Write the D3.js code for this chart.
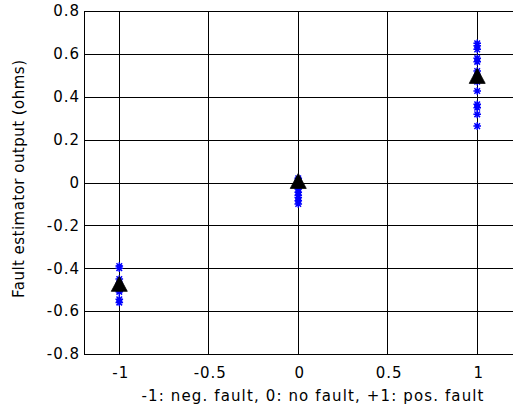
<!DOCTYPE html>
<html>
<head>
<meta charset="utf-8">
<script src="https://cdn.jsdelivr.net/npm/d3@7"></script>
<style>
  html, body { margin: 0; padding: 0; background: #fff; }
  svg { display: block; }
  text { font-family: "DejaVu Sans", Tahoma, sans-serif; font-size: 15px; fill: #000; }
  .tick text { letter-spacing: 1px; }
</style>
</head>
<body>
<svg id="chart" width="513" height="409"></svg>
<script>
// Fault class on the x axis: -1 negative fault, 0 no fault, +1 positive fault
const classes = [-1, 0, 1];

// Individual estimator outputs (ohms) for each class
const outputsNeg = [-0.39, -0.40, -0.45, -0.47, -0.48, -0.49, -0.50, -0.51, -0.545, -0.56];
const outputsNone = [0.02, 0.01, 0.0, -0.01, -0.03, -0.045, -0.06, -0.07, -0.085, -0.10];
const outputsPos = [0.649, 0.638, 0.621, 0.58, 0.563, 0.52, 0.50, 0.47, 0.427, 0.365, 0.349, 0.318, 0.263];

// Mean output per class
const means = [-0.475, 0.005, 0.495];

// Axis ticks
const xTicks = [-1, -0.5, 0, 0.5, 1];
const yTicks = [-0.8, -0.6, -0.4, -0.2, 0, 0.2, 0.4, 0.6, 0.8];

const xLabel = "-1: neg. fault, 0: no fault, +1: pos. fault";
const yLabel = "Fault estimator output (ohms)";

const svg = d3.select("#chart");
const plotLeft = 84, plotRight = 513.5, plotTop = 11, plotBottom = 354;

const x = d3.scaleLinear().domain([-1.2, 1.2]).range([plotLeft, plotRight]);
const y = d3.scaleLinear().domain([-0.8, 0.8]).range([plotBottom, plotTop]);

// Grid lines
const grid = svg.append("g").attr("stroke", "#000").attr("stroke-width", 1).attr("shape-rendering", "crispEdges");
grid.selectAll("line.v").data(xTicks).join("line").attr("class", "v")
  .attr("x1", d => Math.round(x(d)) - 0.5).attr("x2", d => Math.round(x(d)) - 0.5)
  .attr("y1", plotTop).attr("y2", plotBottom);
grid.selectAll("line.h").data(yTicks).join("line").attr("class", "h")
  .attr("y1", d => Math.round(y(d)) + 0.5).attr("y2", d => Math.round(y(d)) + 0.5)
  .attr("x1", plotLeft).attr("x2", plotRight);

// Axes
const xAxis = d3.axisBottom(x).tickValues(xTicks).tickSize(0).tickPadding(13)
  .tickFormat(d => String(d));
const yAxis = d3.axisLeft(y).tickValues(yTicks).tickSize(0).tickPadding(4)
  .tickFormat(d => String(Math.round(d * 10) / 10));

const gx = svg.append("g").attr("transform", `translate(0,${plotBottom})`).call(xAxis);
const gy = svg.append("g").attr("transform", `translate(${plotLeft},0)`).call(yAxis);
[gx, gy].forEach(g => {
  g.select(".domain").remove();
  g.attr("font-family", null).attr("font-size", null);
});
// keep centred x tick labels centred despite trailing letter spacing
gx.selectAll("text").attr("dx", "0.5px");

// Box around the plot area
svg.append("rect")
  .attr("x", plotLeft + 0.5).attr("y", plotTop + 0.5)
  .attr("width", plotRight - plotLeft).attr("height", plotBottom - plotTop)
  .attr("fill", "none").attr("stroke", "#000").attr("stroke-width", 1)
  .attr("shape-rendering", "crispEdges");

// Star markers for individual outputs
const groups = [outputsNeg, outputsNone, outputsPos];
const points = [];
groups.forEach((vals, i) => vals.forEach(v => points.push({ c: classes[i], v })));

const r = 3.8, rd = 2.8;
const starPath = `M${-r},0L${r},0M0,${-r}L0,${r}M${-rd},${-rd}L${rd},${rd}M${-rd},${rd}L${rd},${-rd}`;
svg.append("g").selectAll("path").data(points).join("path")
  .attr("transform", d => `translate(${x(d.c) - 0.5},${y(d.v)})`)
  .attr("d", starPath)
  .attr("fill", "none").attr("stroke", "#0000ff").attr("stroke-width", 1.5);

// Triangle markers for class means
const hw = 8, th = 15;
const triPath = `M0,${-th / 2 - 0.5}L${hw},${th / 2 - 0.5}L${-hw},${th / 2 - 0.5}Z`;
svg.append("g").selectAll("path").data(means).join("path")
  .attr("transform", (d, i) => `translate(${x(classes[i]) - 0.5},${y(d)})`)
  .attr("d", triPath)
  .attr("fill", "#000").attr("stroke", "#000").attr("stroke-width", 0.8);

// Axis titles
svg.append("text")
  .attr("x", 312.5).attr("y", 401)
  .attr("text-anchor", "middle")
  .attr("textLength", 342).attr("lengthAdjust", "spacing")
  .text(xLabel);

svg.append("text")
  .attr("transform", `translate(24,179) rotate(-90)`)
  .attr("text-anchor", "middle")
  .attr("textLength", 238).attr("lengthAdjust", "spacing")
  .text(yLabel);
</script>
</body>
</html>
